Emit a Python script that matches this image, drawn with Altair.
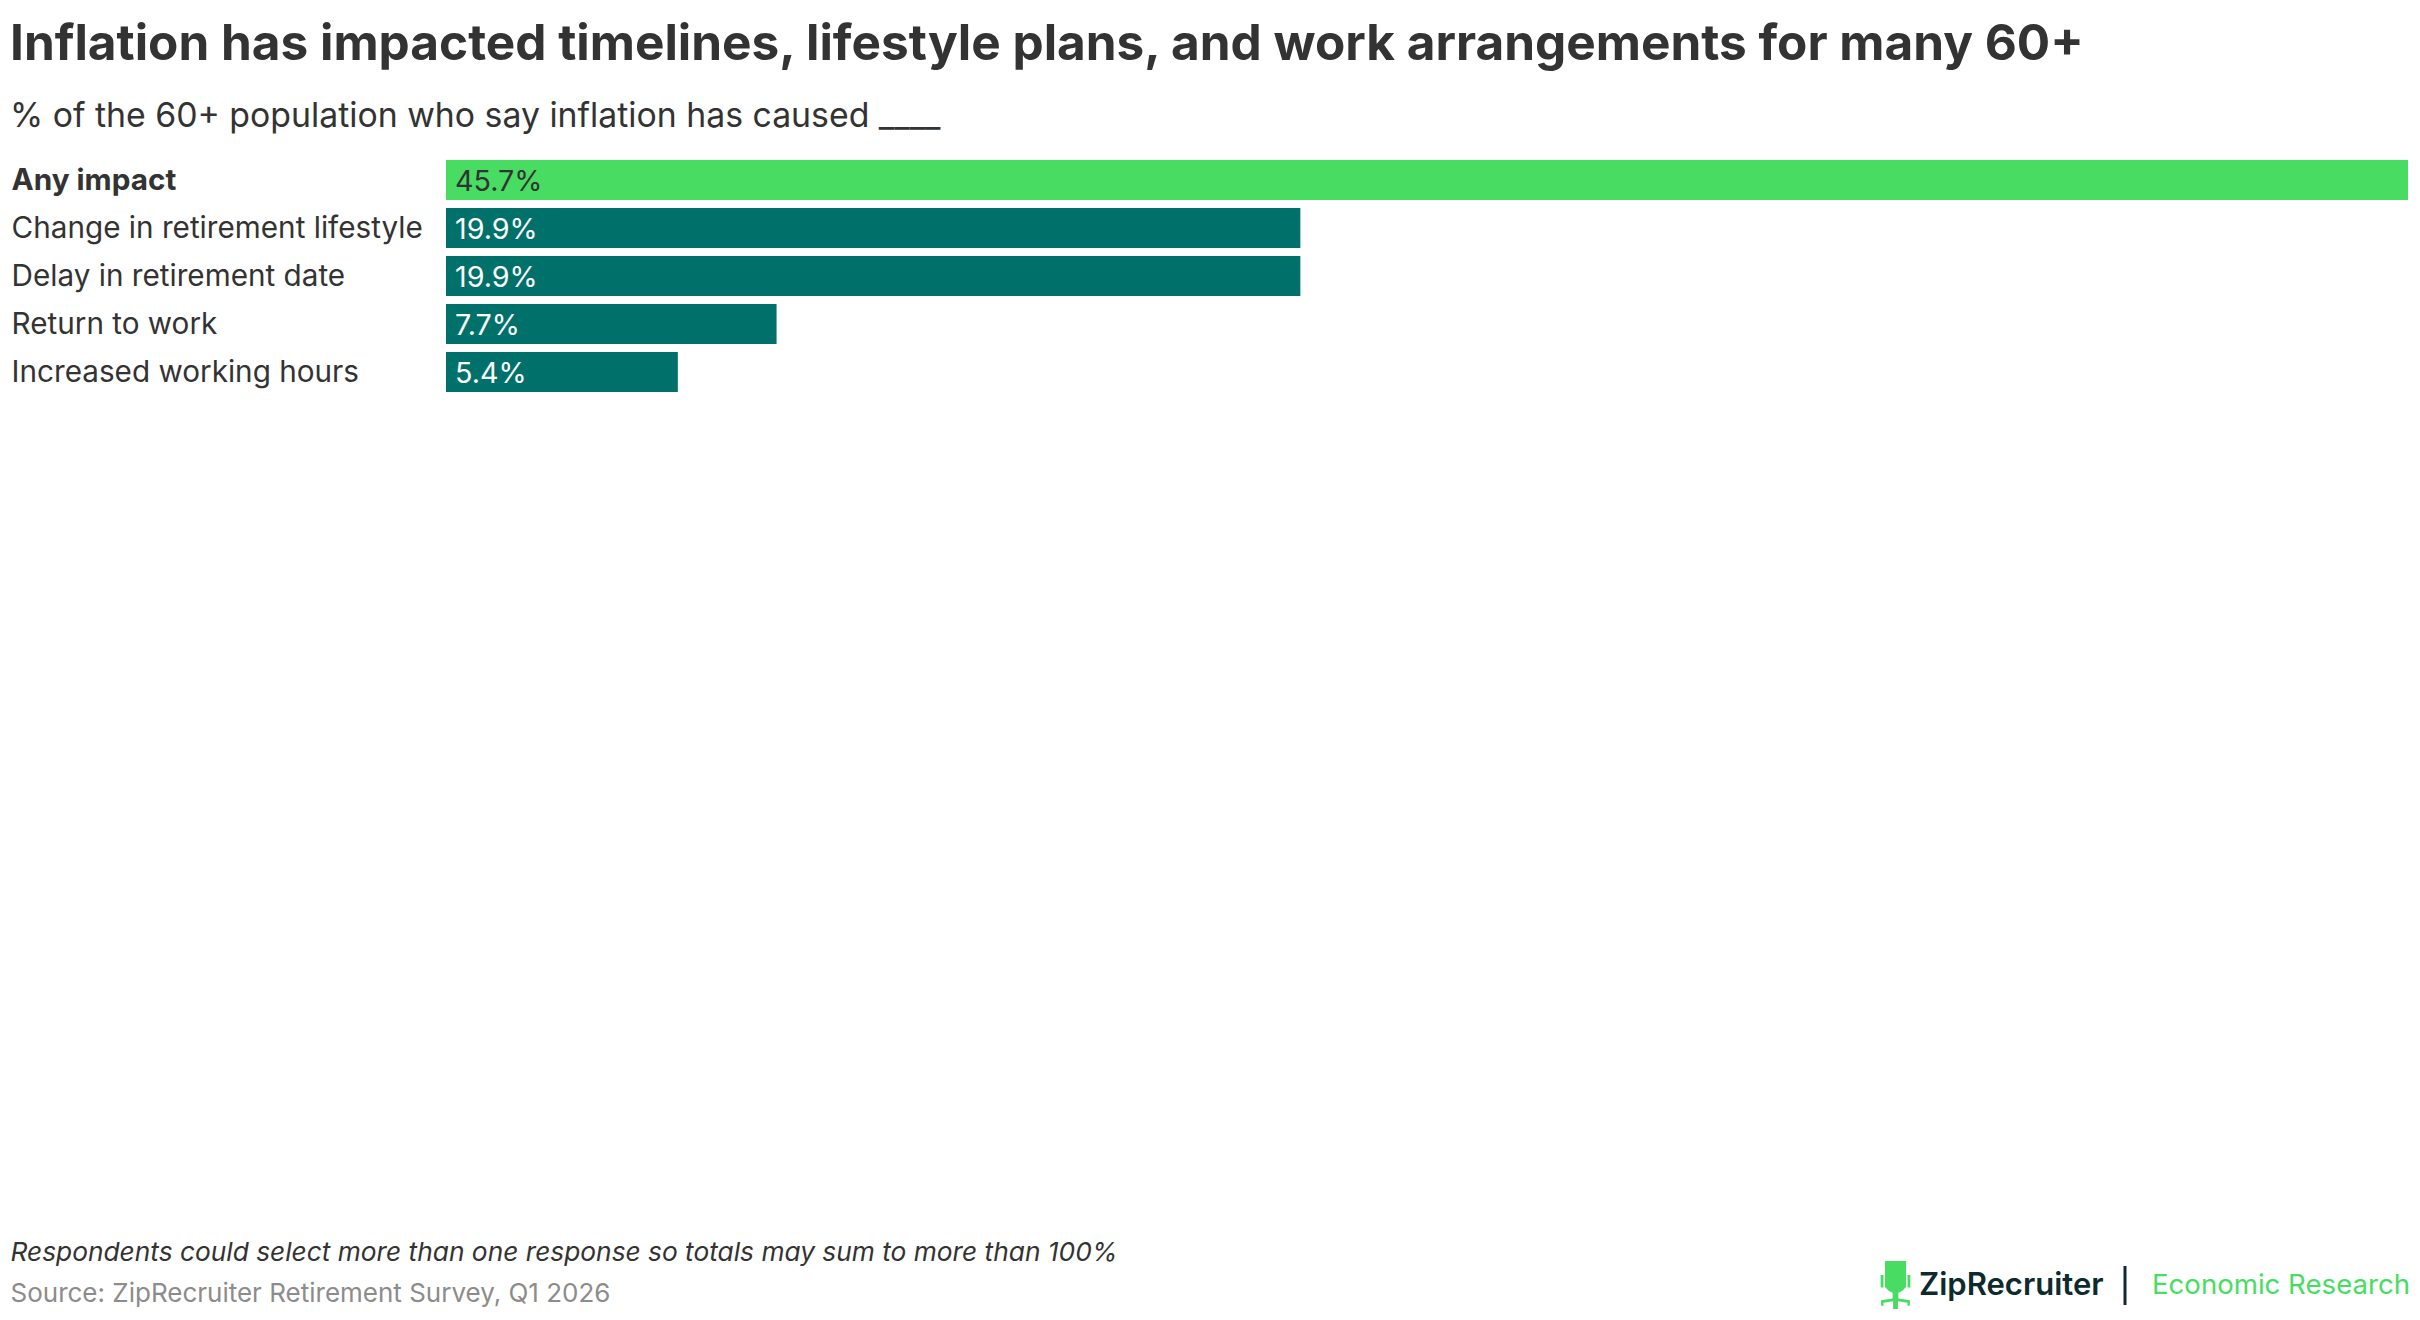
import altair as alt
import pandas as pd

labels = ["Any impact", "Change in retirement lifestyle", "Delay in retirement date", "Return to work", "Increased working hours"]
values = [45.7, 19.9, 19.9, 7.7, 5.4]
title_text = "Inflation has impacted timelines, lifestyle plans, and work arrangements for many 60+"
subtitle_text = "% of the 60+ population who say inflation has caused ____"
note_text = "Respondents could select more than one response so totals may sum to more than 100%"
source_text = "Source: ZipRecruiter Retirement Survey, Q1 2026"

FONT = "Inter"
INK = "#333333"
GREEN = "#48DD62"
TEAL = "#00716A"
NAVY = "#0D2B2E"
LEFT = 446
TOP = 160

df = pd.DataFrame({"label": labels, "value": values})
df["text"] = df["value"].map(lambda v: f"{v}%")
is_any = alt.datum.label == "Any impact"

y_enc = alt.Y(
    "label:N", sort=labels, title=None,
    scale=alt.Scale(paddingInner=1 / 6, paddingOuter=0),
    axis=alt.Axis(
        domain=False, ticks=False, grid=False, labelAlign="left", labelPadding=435,
        labelFont=FONT, labelFontSize=29.7, labelColor=INK, labelLimit=430, labelOverlap=False,
        labelOffset=1,
        labelFontWeight=alt.expr("datum.value == 'Any impact' ? 700 : 400"),
    ),
)
x_enc = alt.X("value:Q", title=None, axis=None, scale=alt.Scale(domain=[0, max(values)], nice=False))

bars = alt.Chart(df).mark_bar(cornerRadius=0).encode(
    x=x_enc, y=y_enc,
    color=alt.condition(is_any, alt.value(GREEN), alt.value(TEAL)),
)
bar_text = alt.Chart(df).mark_text(align="left", baseline="middle", dx=9, dy=2, font=FONT, fontSize=28.7).encode(
    x=alt.datum(0, scale=alt.Scale(domain=[0, max(values)], nice=False), axis=None),
    y=alt.Y("label:N", sort=labels),
    text="text:N",
    color=alt.condition(is_any, alt.value(INK), alt.value("#FFFFFF")),
)


def label(text, px, py, size, color, align="left", weight=400, style="normal"):
    return alt.Chart(pd.DataFrame({"t": [text]})).mark_text(
        align=align, baseline="alphabetic", font=FONT, fontSize=size, color=color,
        fontWeight=weight, fontStyle=style,
    ).encode(x=alt.value(px - LEFT), y=alt.value(py - TOP), text="t:N")


chair_path = (
    "M-.44 -1 L.44 -1 L.44 .08 Q.3 .26 .12 .32 L.12 .56 L.6 .64 L.6 .86 L.5 .86 L.5 .74 L.1 .68 "
    "L.1 1 L-.1 1 L-.1 .68 L-.5 .74 L-.5 .86 L-.6 .86 L-.6 .64 L-.12 .56 L-.12 .32 Q-.3 .26 -.44 .08 Z "
    "M-.62 -.42 L-.5 -.42 L-.5 .1 L-.62 .1 Z M.5 -.42 L.62 -.42 L.62 .1 L.5 .1 Z"
)
chair = alt.Chart(pd.DataFrame({"k": ["chair"]})).mark_point(
    shape=chair_path, size=2304, filled=True, color=GREEN, opacity=1
).encode(x=alt.value(1895.5 - LEFT), y=alt.value(1285 - TOP))
divider = alt.Chart(pd.DataFrame({"k": ["divider"]})).mark_rule(color=NAVY, strokeWidth=3).encode(
    x=alt.value(2125 - LEFT), y=alt.value(1266 - TOP), y2=alt.value(1305 - TOP)
)

chart = alt.layer(
    bars, bar_text,
    label(note_text, 10.5, 1261, 26.3, INK, style="italic"),
    label(source_text, 10.5, 1302, 26, "#8C8C8C"),
    chair,
    label("ZipRecruiter", 1919, 1295, 31, NAVY, weight=600),
    divider,
    label("Economic Research", 2410, 1294, 27.6, GREEN, align="right"),
).properties(
    width=1962,
    height=232,
    padding={"left": LEFT - 8, "top": TOP - 8, "right": 4, "bottom": 920},
    autosize=alt.AutoSizeParams(type="none"),
    background="white",
    title=alt.TitleParams(
        text=title_text, subtitle=subtitle_text, anchor="start", frame="group", dx=-436, offset=25.5,
        font=FONT, fontSize=49.5, fontWeight=700, color=INK,
        subtitleFont=FONT, subtitleFontSize=33.8, subtitleFontWeight=400, subtitleColor=INK, subtitlePadding=29,
    ),
).configure_view(stroke=None)

chart.save("out.html", embed_options={"renderer": "svg", "actions": False})
